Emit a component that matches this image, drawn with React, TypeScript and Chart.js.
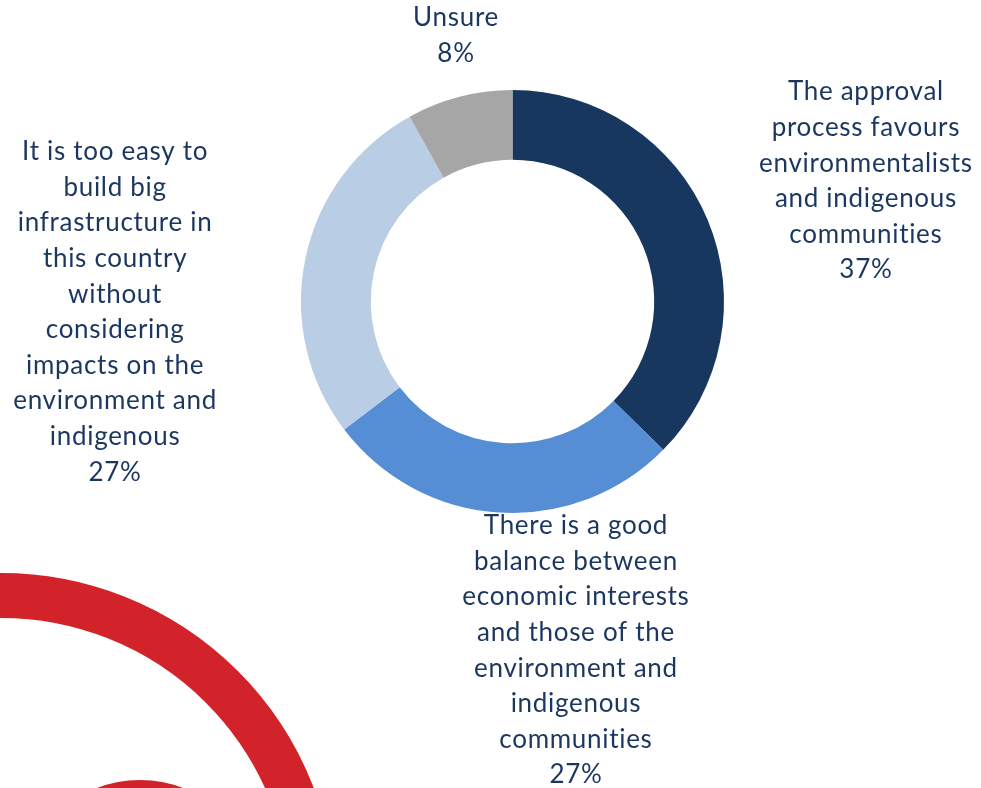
import React, { useEffect, useRef } from "react";
import { Chart, registerables } from "chart.js";

Chart.register(...registerables);

const categories: string[][] = [
  ["The approval", "process favours", "environmentalists", "and indigenous", "communities"],
  ["There is a good", "balance between", "economic interests", "and those of the", "environment and", "indigenous", "communities"],
  ["It is too easy to", "build big", "infrastructure in", "this country", "without", "considering", "impacts on the", "environment and", "indigenous"],
  ["Unsure"],
];
const values: number[] = [37, 27, 27, 8];
const valueLabels: string[] = ["37%", "27%", "27%", "8%"];
const colors: string[] = ["#17375E", "#558ED5", "#B9CDE5", "#A6A6A6"];

// label block centre, relative to doughnut centre, in units of outer radius
const labelOffsets: [number, number][] = [
  [1.671, -0.57],
  [0.3, 1.65],
  [-1.879, 0.05],
  [-0.267, -1.258],
];

const TEXT_COLOR = "#1B365F";
const FONT = "26px Lato";
const LETTER_SPACING = "0.7px";
const LINE_H = 35.6;

const decoPlugin = {
  id: "deco",
  beforeDraw(chart: any) {
    const ctx = chart.ctx;
    ctx.save();
    ctx.strokeStyle = "#D2232A";
    ctx.fillStyle = "#D2232A";
    ctx.lineWidth = 45;
    ctx.beginPath();
    ctx.arc(1, 908, 312.5, 0, Math.PI * 2);
    ctx.stroke();
    ctx.beginPath();
    ctx.arc(140, 900, 120, 0, Math.PI * 2);
    ctx.fill();
    ctx.restore();
  },
};

const labelPlugin = {
  id: "sliceLabels",
  afterDraw(chart: any) {
    const meta = chart.getDatasetMeta(0);
    const ctx = chart.ctx;
    ctx.save();
    ctx.font = FONT;
    try {
      (ctx as any).letterSpacing = LETTER_SPACING;
    } catch (e) {}
    ctx.fillStyle = TEXT_COLOR;
    ctx.textAlign = "center";
    ctx.textBaseline = "middle";
    meta.data.forEach((arc: any, i: number) => {
      const { x, y, outerRadius } = arc.getProps(["x", "y", "outerRadius"], true);
      const cx = x + labelOffsets[i][0] * outerRadius;
      const cy = y + labelOffsets[i][1] * outerRadius;
      const lines = [...categories[i], valueLabels[i]];
      const top = cy - ((lines.length - 1) * LINE_H) / 2;
      lines.forEach((ln, j) => ctx.fillText(ln, cx, top + j * LINE_H));
    });
    ctx.restore();
  },
};

export default function App() {
  const ref = useRef<HTMLCanvasElement | null>(null);
  useEffect(() => {
    document.body.style.margin = "0";
    const chart = new Chart(ref.current as HTMLCanvasElement, {
      type: "doughnut",
      data: {
        labels: categories.map((c) => c.join(" ")),
        datasets: [
          {
            data: values,
            backgroundColor: colors,
            borderWidth: 0,
            hoverOffset: 0,
          },
        ],
      },
      options: {
        responsive: false,
        animation: false,
        cutout: "67%",
        layout: { padding: { left: 301, right: 257, top: 90, bottom: 275 } },
        plugins: {
          legend: { display: false },
          tooltip: { enabled: false },
        },
      },
      plugins: [decoPlugin, labelPlugin],
    });
    return () => chart.destroy();
  }, []);
  return (
    <div style={{ position: "absolute", left: 0, top: 0, width: 981, height: 788, overflow: "hidden", background: "#fff" }}>
      <canvas ref={ref} width={981} height={788} />
    </div>
  );
}
